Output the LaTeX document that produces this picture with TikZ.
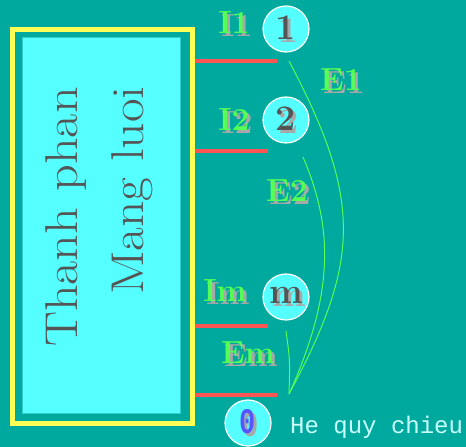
\documentclass[tikz,border=0pt]{standalone}
\usepackage{fontspec}
\newfontfamily\monofont{Liberation Mono}

\definecolor{bgteal}{HTML}{00A99D}
\definecolor{frameyellow}{HTML}{FFFF55}
\definecolor{panelcyan}{HTML}{55FFFF}
\definecolor{panelline}{HTML}{33CCCC}
\definecolor{wirered}{HTML}{FF5555}
\definecolor{emfgreen}{HTML}{55FF55}
\definecolor{shadegray}{HTML}{A8A8A8}
\definecolor{digitgray}{HTML}{555555}
\definecolor{zeroblue}{HTML}{5555FF}
\definecolor{notewhite}{HTML}{C8FFFF}

\newcommand{\shaded}[2]{\rlap{\kern3pt\raisebox{-3pt}{\textcolor{shadegray}{#2}}}\textcolor{#1}{#2}}

\begin{document}
\begin{tikzpicture}[x=1pt,y=1pt,
    outerframe/.style={draw=frameyellow,line width=5pt,minimum width=180pt,
      minimum height=394pt,inner sep=0pt},
    panel/.style={draw=panelline,fill=panelcyan,line width=1pt,
      minimum width=158pt,minimum height=376pt,inner sep=0pt},
    boxtext/.style={rotate=90,anchor=base east,inner sep=0pt,text=digitgray,
      font=\fontsize{46}{50}\selectfont},
    wire/.style={draw=wirered,line width=4.5pt},
    emfline/.style={draw=emfgreen,line width=1pt},
    port/.style={circle,draw=white,line width=1.2pt,fill=panelcyan,
      minimum size=46pt,inner sep=0pt,font=\fontsize{36}{36}\bfseries\selectfont},
    tag/.style={inner sep=0pt,font=\fontsize{32}{32}\bfseries\selectfont}
  ]
    \fill[bgteal] (0,0) rectangle (466,447);
    \useasboundingbox (0,0) rectangle (466,447);

    \node[outerframe] (box) at (102.5,220.5) {};
    \node[panel] (panel) at (101,221) {};
    \node[boxtext] (txt1) at (77,360) {\scalebox{1.14}[1]{Thanh phan}};
    \node[boxtext] (txt2) at (143,361) {\scalebox{1.12}[1]{Mang luoi}};

    \coordinate (w1) at (277,386);
    \coordinate (w2) at (268,296);
    \coordinate (w3) at (268,121);
    \coordinate (w4) at (277,52);
    \draw[wire] (box.east |- w1) -- (w1);
    \draw[wire] (box.east |- w2) -- (w2);
    \draw[wire] (box.east |- w3) -- (w3);
    \draw[wire] (box.east |- w4) -- (w4);

    \node[port] (p1) at (286,418) {\shaded{digitgray}{1}};
    \node[port] (p2) at (286,327) {\shaded{digitgray}{2}};
    \node[port] (pm) at (286,150) {\shaded{digitgray}{m}};
    \node[port,font={\monofont\bfseries\fontsize{36}{36}\selectfont}] (p0) at (248,24)
      {\scalebox{0.75}[1]{\shaded{zeroblue}{0}}};

    \node[tag] (i1) at (234,423) {\shaded{emfgreen}{I1}};
    \node[tag] (i2) at (234,326) {\shaded{emfgreen}{I2}};
    \node[tag] (im) at (225,155) {\shaded{emfgreen}{Im}};
    \node[tag] (em) at (248,93) {\shaded{emfgreen}{Em}};
    \node[tag] (e1) at (341,366) {\shaded{emfgreen}{E1}};
    \node[tag] (e2) at (287,255) {\shaded{emfgreen}{E2}};

    \coordinate (a1) at (289,386);
    \coordinate (a2) at (303,290);
    \coordinate (am) at (286,116);
    \coordinate (g0) at (289,53);
    \draw[emfline] (a1) .. controls (363,246) and (360,185) .. (g0);
    \draw[emfline] (a2) .. controls (332,222) and (336,157) .. (g0);
    \draw[emfline] (am) .. controls (290,87) .. (g0);

    \node[anchor=west,inner sep=0pt,text=notewhite,
      font={\monofont\fontsize{24}{24}\selectfont}] (note) at (290,20) {He quy chieu};
  \end{tikzpicture}
\end{document}
